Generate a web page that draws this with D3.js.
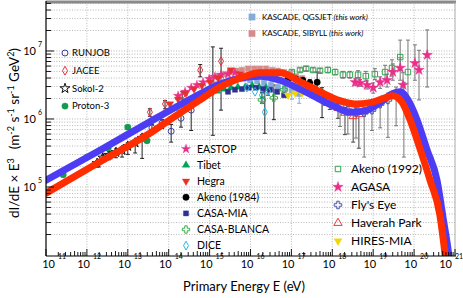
<!DOCTYPE html>
<html>
<head>
<meta charset="utf-8">
<script src="https://cdnjs.cloudflare.com/ajax/libs/d3/7.8.5/d3.min.js"></script>
<style>
  body { margin: 0; background: #fff; }
  svg { display: block; font-family: Lato, "Open Sans", sans-serif; }
</style>
</head>
<body>
<svg id="chart" width="463" height="298"></svg>
<script>
// values are [log10(E/eV), log10(flux), errUp, errDown] (errors in decades)
var fitQgsjet = [[11.00,5.10],[12.32,5.54],[13.54,5.96],[14.28,6.21],[14.77,6.37],[15.25,6.51],[15.74,6.60],[16.23,6.63],[16.72,6.57],[17.21,6.44],[17.70,6.29],[18.07,6.18],[18.43,6.10],[18.80,6.12],[19.17,6.24],[19.46,6.37],[19.66,6.40],[19.85,6.28],[20.07,5.99],[20.32,5.54],[20.56,5.10],[20.71,4.54],[20.85,3.99],[20.95,3.4]];
var fitSibyll = [[11.00,4.91],[12.32,5.37],[13.54,5.79],[14.28,6.09],[14.77,6.28],[15.25,6.47],[15.74,6.60],[16.23,6.68],[16.72,6.68],[17.21,6.55],[17.70,6.40],[18.19,6.27],[18.56,6.22],[18.92,6.24],[19.29,6.31],[19.48,6.34],[19.70,6.25],[19.90,5.99],[20.14,5.57],[20.39,5.10],[20.63,4.59],[20.76,3.99],[20.86,3.4]];

var runjob = [[13.59,5.87,0.05,0.10],[13.84,5.94,0.05,0.08],[14.06,5.82,0.10,0.16],[14.30,6.01,0.10,0.13],[14.55,6.13,0.05,0.30]];
var jacee = [[13.54,6.10,0.05,0.06],[13.91,6.22,0.05,0.07],[14.33,6.34,0.06,0.10],[14.77,6.72,0.08,0.10],[15.08,6.50,0.56,0.74],[15.28,6.85,0.19,0.72]];
var sokol2 = [[12.25,5.35,0.04,0.06],[12.39,5.43,0.04,0.06],[12.54,5.47,0.05,0.07],[12.71,5.51,0.05,0.08],[12.86,5.54,0.05,0.10],[13.00,5.60,0.05,0.12],[13.18,5.65,0.05,0.15],[13.35,5.72,0.05,0.30]];
var proton3 = [[11.42,5.18],[12.00,5.44],[12.52,5.57],[13.00,5.88],[13.47,5.68]];
var kascadeQgsjet = [[15.13,6.51],[15.30,6.54],[15.47,6.57],[15.65,6.59],[15.82,6.59],[15.99,6.57],[16.16,6.56,0.04,0.04],[16.33,6.53,0.05,0.05],[16.50,6.50,0.06,0.08],[16.67,6.47,0.07,0.10],[16.84,6.44,0.08,0.12],[17.01,6.41,0.09,0.12],[17.19,6.37,0.10,0.14]];
var kascadeSibyll = [[15.06,6.60],[15.21,6.63],[15.35,6.66],[15.50,6.69],[15.65,6.71],[15.79,6.72],[15.94,6.74],[16.09,6.74],[16.23,6.74],[16.38,6.74],[16.53,6.72],[16.67,6.71],[16.82,6.69],[16.97,6.66],[17.11,6.63],[17.26,6.60]];
var eastop = [[14.23,6.34],[14.40,6.40],[14.55,6.46],[14.69,6.50],[14.84,6.54],[14.99,6.59],[15.13,6.62],[15.28,6.65],[15.45,6.66],[15.62,6.68]];
var tibet = [[14.15,6.16],[14.33,6.21],[14.50,6.25],[14.67,6.29],[14.84,6.34],[15.01,6.38],[15.18,6.41],[15.35,6.44],[15.52,6.46],[15.69,6.47],[15.87,6.47],[16.04,6.49],[16.21,6.47],[16.38,6.46]];
var hegra = [[14.03,6.22],[14.23,6.29],[14.42,6.38],[14.62,6.44],[14.81,6.49],[15.01,6.54],[15.21,6.60],[15.52,6.72],[15.74,6.66]];
var akeno1984 = [[16.92,6.59,0.03,0.03],[17.11,6.59,0.03,0.03],[17.28,6.57,0.04,0.04],[17.45,6.53,0.05,0.05],[17.63,6.54,0.15,0.15],[17.75,6.28,0.18,0.26]];
var casaMia = [[15.45,6.40],[15.62,6.43],[15.79,6.44],[15.96,6.46],[16.13,6.46],[16.31,6.44],[16.48,6.43],[16.65,6.40],[16.82,6.35]];
var casaBlanca = [[16.28,6.28,0.04,0.05],[16.57,6.31,0.19,0.32],[16.82,6.43,0.05,0.06]];
var dice = [[15.91,6.46],[16.11,6.40],[16.28,6.35,0.04,0.05],[16.43,6.41,0.05,0.06],[16.35,6.10,0.32,0.31]];
var akeno1992 = [[17.01,6.69,0.03,0.03],[17.21,6.72,0.03,0.03],[17.36,6.74,0.03,0.03],[17.53,6.72,0.03,0.03],[17.70,6.71,0.03,0.03],[17.89,6.72,0.04,0.04],[18.07,6.69,0.04,0.04],[18.26,6.65,0.05,0.05],[18.43,6.65,0.05,0.05],[18.63,6.65,0.06,0.06],[18.82,6.63,0.07,0.07],[19.04,6.66,0.08,0.08],[19.29,6.69,0.10,0.10],[19.46,6.75,0.12,0.12],[19.66,6.91,0.25,0.20],[19.85,6.69,0.47,0.63]];
var agasa = [[18.56,6.54,0.05,0.05],[18.68,6.53,0.05,0.05],[18.85,6.50,0.06,0.06],[19.00,6.46,0.07,0.08],[19.17,6.54,0.08,0.09],[19.34,6.57,0.09,0.10],[19.48,6.69,0.12,0.12],[19.66,6.75,0.15,0.18],[19.73,6.50,0.18,0.25],[20.02,6.82,0.27,0.25],[20.12,6.72,0.29,0.44],[20.32,6.94,0.37,0.47]];
var flysEye = [[17.45,6.40,0.04,0.04],[17.65,6.32,0.04,0.05],[17.82,6.26,0.05,0.06],[18.02,6.22,0.05,0.06],[18.19,6.19,0.06,0.30],[18.38,6.13,0.06,0.35],[18.58,6.10,0.07,0.38],[18.78,6.09,0.08,0.65],[18.97,6.13,0.08,0.30],[19.17,6.22,0.09,0.35],[19.36,6.28,0.10,0.55],[19.56,6.35,0.12,0.45],[19.75,6.34,0.20,0.90]];
var haverahPark = [[17.94,6.24,0.06,0.10],[18.14,6.16,0.07,0.15],[18.31,6.09,0.08,0.32],[18.51,6.04,0.10,0.38],[18.65,6.07,0.12,0.50]];
var hiresMia = [[16.92,6.35],[17.09,6.38],[17.26,6.38],[17.41,6.40]];

var xTickExps = [11,12,13,14,15,16,17,18,19,20,21];
var yTickExps = [5,6,7];

var series = [
  {name:'KASCADE, QGSJET', note:'(this work)', data:kascadeQgsjet, sym:d3.symbolSquare, color:'#86aadc', open:false, size:30, err:'#86aadc', leg:'T'},
  {name:'KASCADE, SIBYLL', note:'(this work)', data:kascadeSibyll, sym:d3.symbolSquare, color:'#d68b8b', open:false, size:30, err:'#d68b8b', leg:'T'},
  {name:'RUNJOB', data:runjob, sym:d3.symbolCircle, color:'#3d409e', open:true, size:28, err:'#222', leg:'L'},
  {name:'JACEE', data:jacee, sym:d3.symbolDiamond, color:'#e8303a', open:true, size:22, err:'#222', leg:'L'},
  {name:'Sokol-2', data:sokol2, sym:d3.symbolStar, color:'#111', open:true, size:30, err:'#222', leg:'L'},
  {name:'Proton-3', data:proton3, sym:d3.symbolCircle, color:'#139a4e', open:false, size:32, err:'#222', leg:'L'},
  {name:'EASTOP', data:eastop, sym:d3.symbolStar, color:'#ec2d8c', open:false, size:26, err:'#222', leg:'M'},
  {name:'Tibet', data:tibet, sym:d3.symbolTriangle, color:'#00a45a', open:false, size:24, err:'#222', leg:'M'},
  {name:'Hegra', data:hegra, sym:d3.symbolTriangle, down:true, color:'#e8302a', open:false, size:24, err:'#222', leg:'M'},
  {name:'Akeno (1984)', data:akeno1984, sym:d3.symbolCircle, color:'#000', open:false, size:32, err:'#222', leg:'M'},
  {name:'CASA-MIA', data:casaMia, sym:d3.symbolSquare, color:'#2e3192', open:false, size:26, err:'#222', leg:'M'},
  {name:'CASA-BLANCA', data:casaBlanca, sym:d3.symbolCross, color:'#3bb04a', open:true, size:30, err:'#222', leg:'M'},
  {name:'DICE', data:dice, sym:d3.symbolDiamond, color:'#29b6e8', open:true, size:22, err:'#222', leg:'M'},
  {name:'HIRES-MIA', data:hiresMia, sym:d3.symbolTriangle, down:true, color:'#f3d600', open:false, size:26, err:'#222', leg:'R', order:4},
  {name:'Akeno (1992)', data:akeno1992, sym:d3.symbolSquare, color:'#2ea84e', open:true, size:30, err:'#777', leg:'R', order:0},
  {name:'Haverah Park', data:haverahPark, sym:d3.symbolTriangle, color:'#ed3b3b', open:true, size:30, err:'#444', leg:'R', order:3},
  {name:"Fly's Eye", data:flysEye, sym:d3.symbolCross, color:'#4a55a8', open:true, size:32, err:'#777', leg:'R', order:2},
  {name:'AGASA', data:agasa, sym:d3.symbolStar, color:'#ec2d8c', open:false, size:34, err:'#777', leg:'R', order:1}
];

var svg = d3.select('#chart');
var x = d3.scaleLog().domain([1e11, 1e21]).range([46, 455]);
var y = d3.scaleLog().domain([1e4, 5.25e7]).range([255, 2]);
var px = function(d){ return x(Math.pow(10, d[0])); };
var py = function(d){ return y(Math.pow(10, d[1])); };

svg.append('defs').append('clipPath').attr('id', 'plotClip')
  .append('rect').attr('x', 46).attr('y', 2).attr('width', 409).attr('height', 254);

// grid
var grid = svg.append('g');
var yMinor = [];
for (var e = 4; e <= 7; e++) for (var m = 1; m <= 9; m++) {
  var v = m * Math.pow(10, e);
  if (v >= 1e4 && v <= 5.25e7) yMinor.push({v: v, major: m === 1});
}
grid.selectAll('.hg').data(yMinor.filter(function(d){ return d.v > 1e4; })).enter().append('line')
  .attr('x1', 46).attr('x2', 455)
  .attr('y1', function(d){ return y(d.v); }).attr('y2', function(d){ return y(d.v); })
  .attr('stroke', '#9a9a9a').attr('stroke-width', 0.7).attr('stroke-dasharray', '1,1.6');
grid.selectAll('.vg').data(xTickExps.slice(1, -1)).enter().append('line')
  .attr('y1', 2).attr('y2', 256)
  .attr('x1', function(d){ return x(Math.pow(10, d)); }).attr('x2', function(d){ return x(Math.pow(10, d)); })
  .attr('stroke', '#9a9a9a').attr('stroke-width', 0.7).attr('stroke-dasharray', '1,1.6');

var plot = svg.append('g').attr('clip-path', 'url(#plotClip)');

// error bars
series.forEach(function(s){
  var withErr = s.data.filter(function(d){ return d.length > 2; });
  var g = plot.append('g').attr('stroke', s.err).attr('stroke-width', 1);
  withErr.forEach(function(d){
    var cx = px(d), y1 = y(Math.pow(10, d[1] + d[2])), y2 = y(Math.pow(10, d[1] - d[3]));
    g.append('line').attr('x1', cx).attr('x2', cx).attr('y1', y1).attr('y2', y2);
    g.append('line').attr('x1', cx - 2).attr('x2', cx + 2).attr('y1', y1).attr('y2', y1);
    g.append('line').attr('x1', cx - 2).attr('x2', cx + 2).attr('y1', y2).attr('y2', y2);
  });
});

function drawMark(g, s, cx, cy, size) {
  g.append('path')
    .attr('d', d3.symbol().type(s.sym).size(size || s.size)())
    .attr('transform', 'translate(' + cx + ',' + cy + ')' + (s.down ? ' rotate(180)' : ''))
    .attr('fill', s.open ? 'none' : s.color)
    .attr('stroke', s.color)
    .attr('stroke-width', s.open ? 1 : 0.4);
}

series.forEach(function(s){
  var g = plot.append('g');
  s.data.forEach(function(d){ drawMark(g, s, px(d), py(d)); });
});

// fit curves
var line = d3.line().x(px).y(py).curve(d3.curveMonotoneX);
plot.append('path').datum(fitQgsjet).attr('d', line)
  .attr('fill', 'none').attr('stroke', '#4c3cf4').attr('stroke-width', 7).attr('stroke-linecap', 'round');
plot.append('path').datum(fitSibyll).attr('d', line)
  .attr('fill', 'none').attr('stroke', '#ff2d00').attr('stroke-width', 7).attr('stroke-linecap', 'round');

// frame
svg.append('line').attr('x1', 46).attr('x2', 456).attr('y1', 2).attr('y2', 2).attr('stroke', '#8a8a8a').attr('stroke-width', 3);
svg.append('line').attr('x1', 455).attr('x2', 455).attr('y1', 2).attr('y2', 256).attr('stroke', '#aaa').attr('stroke-width', 1);
svg.append('line').attr('x1', 46).attr('x2', 46).attr('y1', 1).attr('y2', 256).attr('stroke', '#000').attr('stroke-width', 1.2);
svg.append('line').attr('x1', 46).attr('x2', 456).attr('y1', 256).attr('y2', 256).attr('stroke', '#000').attr('stroke-width', 1.2);

// y ticks
var axes = svg.append('g').attr('stroke', '#000').attr('stroke-width', 0.9);
yMinor.forEach(function(d){
  if (d.v <= 1e4) return;
  axes.append('line').attr('x1', 46).attr('x2', 46 + (d.major ? 8 : 5))
    .attr('y1', y(d.v)).attr('y2', y(d.v));
});
// x ticks
xTickExps.forEach(function(e){
  for (var m = 1; m <= 9; m++) {
    if (e === 21 && m > 1) break;
    var xv = x(m * Math.pow(10, e));
    axes.append('line').attr('x1', xv).attr('x2', xv)
      .attr('y1', 256).attr('y2', 256 - (m === 1 ? 7 : (m === 5 ? 5 : 4)));
  }
});

// tick labels
var lab = svg.append('g').attr('fill', '#000');
xTickExps.forEach(function(e, i){
  var xv = x(Math.pow(10, e)) + (i === 0 ? 6 : (i === xTickExps.length - 1 ? -6 : 0));
  lab.append('text').attr('x', xv + 3).attr('y', 268).attr('text-anchor', 'end')
    .style('font-size', '11px').text('10');
  lab.append('text').attr('x', xv + 6).attr('y', 259).style('font-size', '7px').text(e);
});
yTickExps.forEach(function(e){
  var yv = y(Math.pow(10, e));
  lab.append('text').attr('x', 36).attr('y', yv + 4).attr('text-anchor', 'end')
    .style('font-size', '11px').text('10');
  lab.append('text').attr('x', 38).attr('y', yv - 4).style('font-size', '7px').text(e);
});

// axis titles
svg.append('text').attr('x', 244).attr('y', 291).attr('text-anchor', 'middle')
  .style('font-size', '13px').text('Primary Energy E (eV)');

var yt = svg.append('text').attr('transform', 'translate(19,133) rotate(-90)')
  .attr('text-anchor', 'middle').style('font-size', '13.5px');
var parts = [['dI/dE × E',0],['3',1],['(m',0,9],['-2',1],[' s',0],['-1',1],[' sr',0],['-1',1],[' GeV',0],['2',1],[')',0]];
var prevSup = false;
parts.forEach(function(p){
  var t = yt.append('tspan').text(p[0]);
  if (p[1]) { t.attr('dy', -5).style('font-size', '9px'); prevSup = true; }
  else { if (prevSup) t.attr('dy', 5); prevSup = false; }
  if (p[2]) t.attr('dx', p[2]);
});

// legends
var legCfg = {
  L: {mx: 65, tx: 72, y0: 53, dy: 17.7, fs: 9.5, ms: null},
  M: {mx: 186, tx: 197, y0: 149, dy: 16.1, fs: 10.5, ms: null},
  R: {mx: 338, tx: 351, y0: 169, dy: 18, fs: 12, ms: null},
  T: {mx: 252, tx: 262, y0: 17, dy: 16.5, fs: 8, ms: 40}
};
var counts = {L: 0, M: 0, R: 0, T: 0};
var leg = svg.append('g');
series.forEach(function(s){
  var c = legCfg[s.leg];
  var idx = s.order !== undefined ? s.order : counts[s.leg];
  counts[s.leg]++;
  var ly = c.y0 + idx * c.dy;
  drawMark(leg, s, c.mx, ly, c.ms);
  var t = leg.append('text').attr('x', c.tx).attr('y', ly).attr('dy', '0.35em')
    .style('font-size', c.fs + 'px').text(s.name);
  if (s.note) t.append('tspan').style('font-style', 'italic').text(' ' + s.note);
});
</script>
</body>
</html>
